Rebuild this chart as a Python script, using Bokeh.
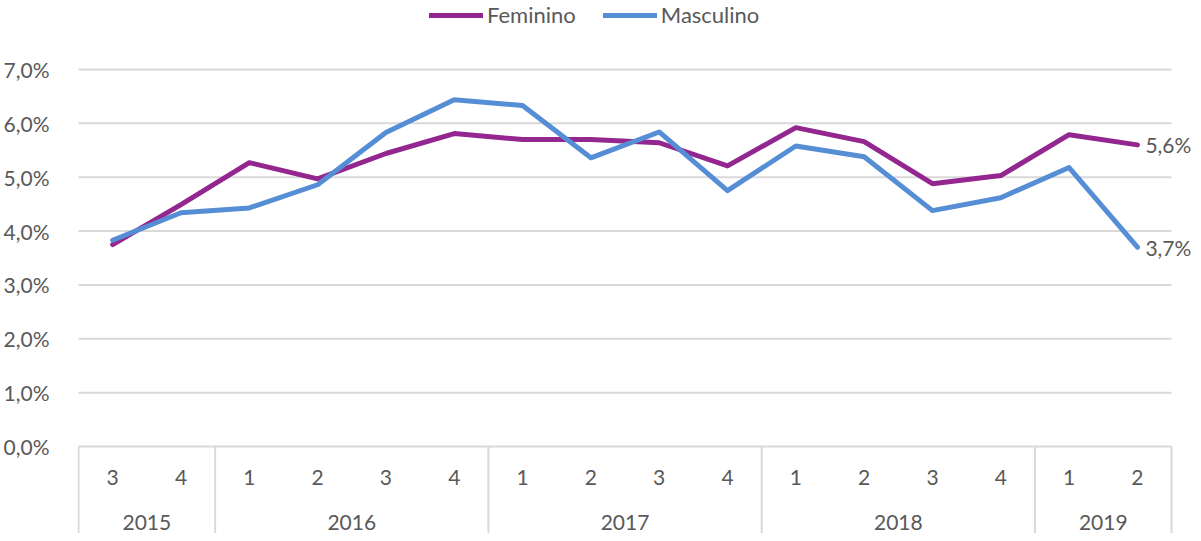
from bokeh.plotting import figure
from bokeh.models import (ColumnDataSource, FixedTicker, CustomJSTickFormatter, Range1d,
                          Legend, LegendItem)
from bokeh.core.properties import value
from bokeh.embed import file_html
from bokeh.resources import INLINE

# ---- data ----
years = ["2015", "2015", "2016", "2016", "2016", "2016", "2017", "2017", "2017", "2017",
         "2018", "2018", "2018", "2018", "2019", "2019"]
quarters = ["3", "4", "1", "2", "3", "4", "1", "2", "3", "4", "1", "2", "3", "4", "1", "2"]
feminino = [3.75, 4.49, 5.27, 4.97, 5.44, 5.81, 5.70, 5.70, 5.64, 5.21,
            5.92, 5.66, 4.88, 5.03, 5.79, 5.60]
masculino = [3.83, 4.34, 4.43, 4.86, 5.83, 6.44, 6.33, 5.36, 5.84, 4.75,
             5.58, 5.38, 4.38, 4.62, 5.18, 3.70]
y_ticks = [0, 1, 2, 3, 4, 5, 6, 7]

# ---- style ----
FONT = "Lato"
TXT = "#595959"
GRID = "#D9D9D9"
PURPLE = "#93278F"
BLUE = "#558ED5"

n = len(quarters)
idx = list(range(n))

W, H = 1193, 533
left_b = 73
cat_left_px, cat_right_px = 74, 1171   # pixel positions of category area edges
px_per_x = (cat_right_px - cat_left_px) / n
x0 = -0.5 - (cat_left_px - left_b) / px_per_x
x1 = n - 0.5 + (W - cat_right_px) / px_per_x
zero_px, top_px = 446, 69
px_per_y = (zero_px - top_px) / 7.0
y0 = -(H - zero_px) / px_per_y
y1 = 7.0 + top_px / px_per_y

p = figure(width=W, height=H, output_backend="svg", toolbar_location=None,
           x_range=Range1d(x0, x1), y_range=Range1d(y0, y1),
           min_border_left=left_b, min_border_right=0,
           min_border_top=0, min_border_bottom=0)
p.outline_line_color = None
p.background_fill_color = "white"
p.border_fill_color = "white"
p.xaxis.visible = False
p.xgrid.visible = False
p.ygrid.visible = False

p.yaxis.ticker = FixedTicker(ticks=y_ticks)
p.yaxis.formatter = CustomJSTickFormatter(code="return tick.toFixed(1).replace('.', ',') + '%';")
p.yaxis.axis_line_color = None
p.yaxis.major_tick_line_color = None
p.yaxis.minor_tick_line_color = None
p.yaxis.major_label_standoff = 22
p.yaxis.major_label_text_font = FONT
p.yaxis.major_label_text_font_size = "21px"
p.yaxis.major_label_text_color = TXT

# horizontal gridlines over the category area
p.segment(x0=[-0.5] * len(y_ticks), y0=y_ticks, x1=[n - 0.5] * len(y_ticks), y1=y_ticks,
          line_color=GRID, line_width=2)

# year separators
bounds = [-0.5]
for i in range(1, n):
    if years[i] != years[i - 1]:
        bounds.append(i - 0.5)
bounds.append(n - 0.5)
p.segment(x0=bounds, y0=[0] * len(bounds), x1=bounds, y1=[y0] * len(bounds),
          line_color=GRID, line_width=2)

# quarter labels
p.text(x=idx, y=[0] * n, text=quarters, text_font=value(FONT), text_font_size="21px",
       text_color=TXT, text_align="center", text_baseline="middle", y_offset=31)

# year labels
ylabels, ycenters = [], []
for a, b in zip(bounds[:-1], bounds[1:]):
    ylabels.append(years[int(a + 0.5)])
    ycenters.append((a + b) / 2)
p.text(x=ycenters, y=[0] * len(ycenters), text=ylabels, text_font=value(FONT),
       text_font_size="21px", text_color=TXT, text_align="center",
       text_baseline="middle", y_offset=76)

src = ColumnDataSource(dict(x=idx, f=feminino, m=masculino))
rf = p.line("x", "f", source=src, line_color=PURPLE, line_width=5, line_join="round", line_cap="round")
rm = p.line("x", "m", source=src, line_color=BLUE, line_width=5, line_join="round", line_cap="round")

# end labels
end_x = [idx[-1], idx[-1]]
end_y = [feminino[-1], masculino[-1]]
end_t = [f"{v:.1f}".replace(".", ",") + "%" for v in end_y]
p.text(x=end_x, y=end_y, text=end_t, x_offset=8, text_font=value(FONT),
       text_font_size="21px", text_color=TXT, text_baseline="middle", text_align="left")

legend = Legend(items=[LegendItem(label="Feminino", renderers=[rf]),
                       LegendItem(label="Masculino", renderers=[rm])],
                orientation="horizontal", location=(352, 505),
                glyph_width=54, glyph_height=20, label_height=20, label_standoff=4,
                spacing=27, padding=0, margin=0,
                border_line_color=None, background_fill_alpha=0,
                label_text_font=FONT, label_text_font_size="22px", label_text_color=TXT)
p.add_layout(legend)

open("out.html", "w").write(file_html(p, INLINE))
